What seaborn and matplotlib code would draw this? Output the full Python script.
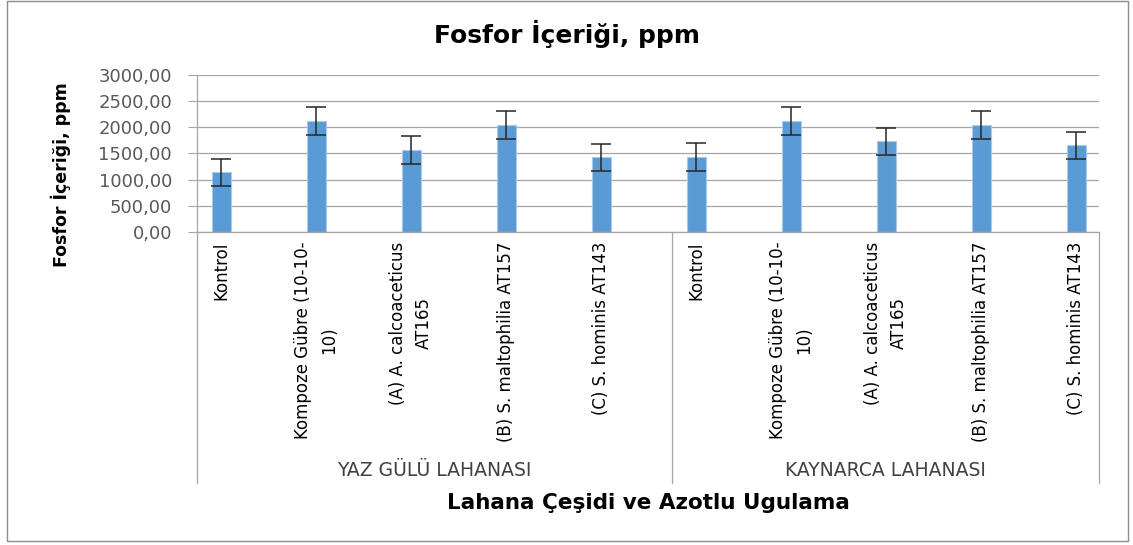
import numpy as np
import pandas as pd
import seaborn as sns
import matplotlib.pyplot as plt
from matplotlib.lines import Line2D
from matplotlib.patches import Rectangle
from matplotlib.transforms import blended_transform_factory

# data
groups = ['YAZ GÜLÜ LAHANASI', 'KAYNARCA LAHANASI']
treatments = ['Kontrol', 'Kompoze Gübre (10-10-\n10)', '(A) A. calcoaceticus\nAT165',
              '(B) S. maltophilia AT157', '(C) S. hominis AT143']
yaz_values = [1142, 2124, 1567, 2047, 1426]
kaynarca_values = [1426, 2124, 1733, 2047, 1657]
yaz_errors = [262, 265, 260, 265, 262]
kaynarca_errors = [268, 262, 262, 262, 262]
yticks = [0, 500, 1000, 1500, 2000, 2500, 3000]

df = pd.DataFrame({
    'group': [groups[0]] * 5 + [groups[1]] * 5,
    'treatment': treatments * 2,
    'value': yaz_values + kaynarca_values,
    'err': yaz_errors + kaynarca_errors,
})
df['key'] = df['group'] + '|' + df['treatment']

W, H = 1133, 545
fig = plt.figure(figsize=(W / 100, H / 100), dpi=100)
ax = fig.add_axes([197 / W, 1 - 231.7 / H, (1099 - 197) / W, (231.7 - 75.3) / H])

sns.barplot(data=df, x='key', y='value', order=list(df['key']), color='#5B9BD5',
            saturation=1, width=0.2, errorbar=None, edgecolor='#A9C8EA', linewidth=0.8, ax=ax)
ax.errorbar(np.arange(len(df)), df['value'], yerr=df['err'], fmt='none',
            ecolor='#262626', elinewidth=1.1, capsize=7.5, capthick=1.1, zorder=5)

ax.set_xlim(-0.253, 9.242)
ax.set_ylim(0, 3000)
ax.set_yticks(yticks)
ax.set_yticklabels([f'{v:.2f}'.replace('.', ',') for v in yticks])
ax.yaxis.grid(True, color='#A6A6A6', lw=0.9)
ax.set_axisbelow(True)
for s in ['top', 'right']:
    ax.spines[s].set_visible(False)
for s in ['left', 'bottom']:
    ax.spines[s].set_color('#A6A6A6')
    ax.spines[s].set_linewidth(0.9)
ax.tick_params(axis='y', length=6.5, color='#A6A6A6', pad=11.5, labelsize=13, labelcolor='#595959')
ax.tick_params(axis='x', length=0, pad=7)
ax.set_xticks(np.arange(len(df)))
ax.set_xticklabels(df['treatment'], rotation=90, fontsize=12, linespacing=1.6, color='black')
ax.set_xlabel('')
ax.set_ylabel('')

# group separators below the axis
trans = blended_transform_factory(ax.transData, fig.transFigure)
for xs in [-0.253, 4.744, 9.242]:
    fig.add_artist(Line2D([xs, xs], [1 - 231.7 / H, 1 - 483 / H], transform=trans,
                          color='#A6A6A6', lw=0.9))

fig.text((197 + 672) / 2 / W, 1 - 471 / H, groups[0], ha='center', va='center',
         fontsize=13.5, color='#404040')
fig.text((672 + 1099) / 2 / W, 1 - 471 / H, groups[1], ha='center', va='center',
         fontsize=13.5, color='#404040')

fig.text(648 / W, 1 - 503 / H, 'Lahana Çeşidi ve Azotlu Ugulama', ha='center', va='center',
         fontsize=15.5, fontweight='bold')
fig.text(60.5 / W, 1 - 174.5 / H, 'Fosfor İçeriği, ppm', ha='center', va='center',
         rotation=90, fontsize=12.5, fontweight='bold')
fig.text(566.5 / W, 1 - 34 / H, 'Fosfor İçeriği, ppm', ha='center', va='center',
         fontsize=18, fontweight='bold')

# chart border
fig.add_artist(Rectangle((7 / W, 1 - 540.7 / H), (1128 - 7) / W, (540.7 - 1) / H,
                         transform=fig.transFigure, fill=False, edgecolor='#8C8C8C', lw=1))

fig.savefig('out.png', dpi=100)
